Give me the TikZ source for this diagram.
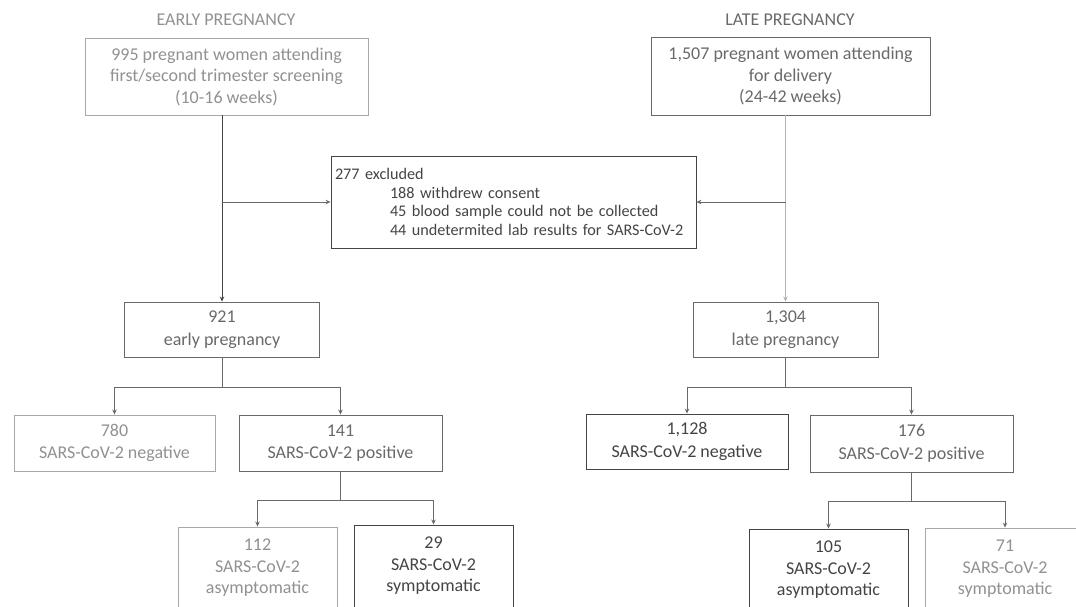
\documentclass[tikz,border=0pt]{standalone}
\usepackage{fontspec}
\setmainfont{Carlito}
\usepackage{tikz}
\usetikzlibrary{arrows.meta,positioning,calc}
\definecolor{inkdark}{RGB}{68,68,68}
\definecolor{inkmid}{RGB}{105,105,105}
\definecolor{inklight}{RGB}{145,145,145}

\begin{document}
\begin{tikzpicture}[
    x=1pt, y=-1pt,
    darkbox/.style={rectangle, draw=inkdark, text=inkdark, line width=0.9pt, align=center, inner sep=2pt, font=\fontsize{18}{22.5}\selectfont},
    midbox/.style={darkbox, draw=inkmid, text=inkmid},
    lightbox/.style={darkbox, draw=inklight!80, text=inklight},
    tallbox/.style={minimum width=159pt, minimum height=82pt, font=\fontsize{18}{21.5}\selectfont},
    stage/.style={font=\fontsize{18}{20}\selectfont, text=inklight},
    arrow/.style={->, >={Stealth[length=5pt, width=4.5pt]}, draw=inkmid, line width=0.8pt},
    link/.style={draw=inkmid, line width=0.8pt}
]
    \useasboundingbox (0,0) rectangle (1076,606);

    % Cohorts
    \node[stage] (earlylbl) at (226,20) {EARLY PREGNANCY};
    \node[stage, text=inkmid] (latelbl) at (790,20) {LATE PREGNANCY};
    \node[lightbox, minimum width=283pt, minimum height=77pt, font=\fontsize{18}{21.5}\selectfont] (e995) at (226.5,76.5) {995 pregnant women attending\\first/second trimester screening\\(10-16 weeks)};
    \node[midbox, minimum width=279pt, minimum height=78pt, font=\fontsize{18}{21.5}\selectfont] (l1507) at (790.5,76) {1,507 pregnant women attending\\for delivery\\(24-42 weeks)};

    % Exclusions
    \node[darkbox, align=left, text width=357pt, inner sep=4pt, minimum height=92pt, font=\fontsize{16.2}{18.5}\selectfont] (excl) at (513.5,202) {277 excluded\\
        \hspace*{55pt}188 withdrew consent\\
        \hspace*{55pt}45 blood sample could not be collected\\
        \hspace*{55pt}44 undetermited lab results for SARS-CoV-2};

    % Included
    \node[midbox, minimum width=195pt, minimum height=55pt] (e921) at (222,329.5) {921\\early pregnancy};
    \node[midbox, minimum width=185pt, minimum height=55pt] (l1304) at (785.5,329.5) {1,304\\late pregnancy};

    % Serology
    \node[lightbox, minimum width=201pt, minimum height=56pt] (eneg) at (114.5,443) {780\\SARS-CoV-2 negative};
    \node[midbox, minimum width=203pt, minimum height=56pt] (epos) at (340.5,443) {141\\SARS-CoV-2 positive};
    \node[darkbox, minimum width=202pt, minimum height=55pt] (lneg) at (687,441.5) {1,128\\SARS-CoV-2 negative};
    \node[midbox, minimum width=203pt, minimum height=57pt] (lpos) at (911.5,443.5) {176\\SARS-CoV-2 positive};

    % Symptoms
    \node[lightbox, tallbox] (easy) at (257.5,568) {112\\SARS-CoV-2\\asymptomatic};
    \node[darkbox, tallbox] (esym) at (433.5,566) {29\\SARS-CoV-2\\symptomatic};
    \node[darkbox, tallbox] (lasy) at (828.5,570) {105\\SARS-CoV-2\\asymptomatic};
    \node[lightbox, tallbox, minimum width=160pt] (lsym) at (1005,569) {71\\SARS-CoV-2\\symptomatic};

    % Flow
    \draw[arrow, draw=inkdark] (e995.south -| e921.north) -- (e921.north);
    \draw[arrow, draw=inklight!70] (l1507.south -| l1304.north) -- (l1304.north);
    \coordinate (ejoin) at (e921.north |- excl.west);
    \coordinate (ljoin) at (l1304.north |- excl.east);
    \draw[arrow] (ejoin) -- (excl.west);
    \draw[arrow] (ljoin) -- (excl.east);

    \coordinate (esplit) at ($(e921.south)+(0,30)$);
    \coordinate (lsplit) at ($(l1304.south)+(0,30)$);
    \draw[link] (e921.south) -- (esplit);
    \draw[arrow] (esplit) -| (eneg);
    \draw[arrow] (esplit) -| (epos);
    \draw[link] (l1304.south) -- (lsplit);
    \draw[arrow] (lsplit) -| (lneg);
    \draw[arrow] (lsplit) -| (lpos);

    \coordinate (epsplit) at ($(epos.south)+(0,29)$);
    \coordinate (lpsplit) at ($(lpos.south)+(0,29)$);
    \draw[link] (epos.south) -- (epsplit);
    \draw[arrow] (epsplit) -| (easy);
    \draw[arrow] (epsplit) -| (esym);
    \draw[link] (lpos.south) -- (lpsplit);
    \draw[arrow] (lpsplit) -| (lasy);
    \draw[arrow] (lpsplit) -| (lsym);
\end{tikzpicture}
\end{document}
